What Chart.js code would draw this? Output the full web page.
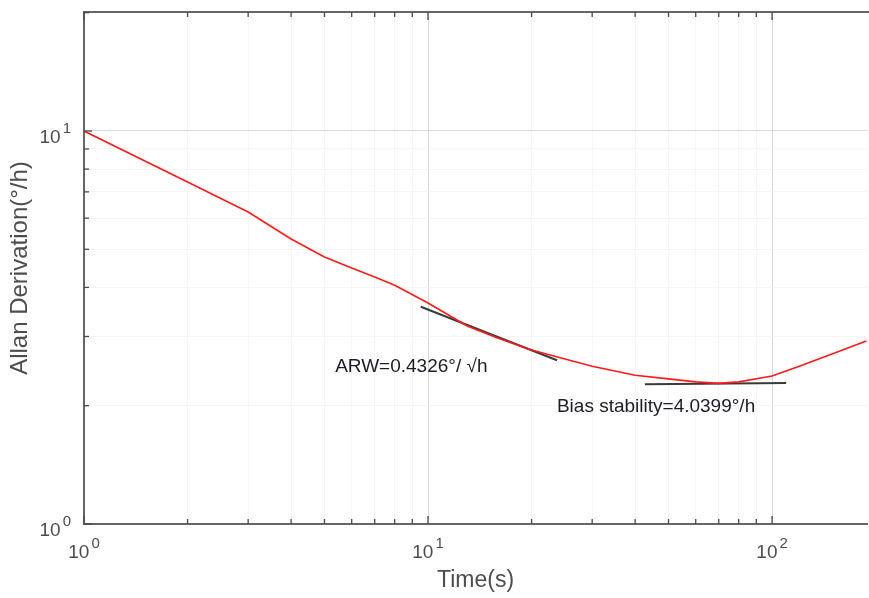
<!DOCTYPE html>
<html>
<head>
<meta charset="utf-8">
<script src="https://cdn.jsdelivr.net/npm/chart.js@4.4.1/dist/chart.umd.min.js"></script>
<style>
  html, body { margin: 0; padding: 0; background: #fff; }
  #wrap { width: 869px; height: 598px; }
</style>
</head>
<body>
<div id="wrap"><canvas id="allanChart" width="869" height="598"></canvas></div>
<script>
// Curva de Allan (tau em s, desvio em °/h)
var tauValues  = [1, 2, 3, 4, 5, 6, 7, 8, 10, 13, 16, 20, 25, 30, 40, 50, 60, 70, 80, 100, 120, 150, 188];
var adevValues = [10.0, 7.42, 6.22, 5.31, 4.78, 4.48, 4.25, 4.05, 3.65, 3.19, 2.97, 2.77, 2.63, 2.52, 2.39, 2.34, 2.30, 2.28, 2.30, 2.38, 2.52, 2.71, 2.92];

// Retas de ajuste (ARW e bias stability)
var arwTau  = [9.53, 23.7];
var arwAdev = [3.57, 2.61];
var biasTau  = [42.7, 109.9];
var biasAdev = [2.268, 2.285];

// Textos das anotações e onde ficam (em coordenadas dos dados)
var noteTexts = ['ARW=0.4326°/ √h', 'Bias stability=4.0399°/h'];
var noteTau   = [5.37, 23.7];
var noteAdev  = [2.437, 1.928];

// Ticks dos eixos
var xTickValues = [1, 2, 3, 4, 5, 6, 7, 8, 9, 10, 20, 30, 40, 50, 60, 70, 80, 90, 100];
var yTickValues = [1, 2, 3, 4, 5, 6, 7, 8, 9, 10, 20];
var xLabelValues = [1, 10, 100];
var xLabelExps   = ['0', '1', '2'];
var yLabelValues = [1, 10];
var yLabelExps   = ['0', '1'];

var FONT = "'Liberation Sans', Arial, sans-serif";

function isDecade(v) {
  var l = Math.log10(v);
  return Math.abs(l - Math.round(l)) < 1e-9;
}

function toPoints(xs, ys) {
  return xs.map(function (x, i) { return { x: x, y: ys[i] }; });
}

function setTicks(list) {
  return function (scale) {
    scale.ticks = list.map(function (v) { return { value: v, major: isDecade(v) }; });
  };
}

function gridColor(c) {
  return c.tick && c.tick.major ? '#d9d9d9' : '#f5f5f5';
}

// Desenha "10" com expoente
function drawPow(ctx, exp, x, y, align) {
  ctx.font = '19px ' + FONT;
  var wb = ctx.measureText('10').width;
  ctx.font = '15px ' + FONT;
  var we = ctx.measureText(exp).width;
  var total = wb + 2 + we;
  var start = align === 'right' ? x - total : x - total / 2;
  ctx.textAlign = 'left';
  ctx.textBaseline = 'alphabetic';
  ctx.font = '19px ' + FONT;
  ctx.fillText('10', start, y);
  ctx.font = '15px ' + FONT;
  ctx.fillText(exp, start + wb + 2, y - 10);
}

var axisDecor = {
  id: 'axisDecor',
  afterDraw: function (chart) {
    var ctx = chart.ctx, a = chart.chartArea;
    var xs = chart.scales.x, ys = chart.scales.y;
    ctx.save();

    // borda superior
    ctx.strokeStyle = '#666';
    ctx.lineWidth = 2;
    ctx.beginPath();
    ctx.moveTo(a.left - 1, a.top);
    ctx.lineTo(a.right + 2, a.top);
    ctx.stroke();

    // ticks para dentro
    ctx.strokeStyle = '#4a4a4a';
    ctx.lineWidth = 1.3;
    xs.ticks.forEach(function (t) {
      var px = xs.getPixelForValue(t.value), len = t.major ? 8 : 5;
      ctx.beginPath();
      ctx.moveTo(px, a.bottom); ctx.lineTo(px, a.bottom - len);
      ctx.moveTo(px, a.top); ctx.lineTo(px, a.top + len);
      ctx.stroke();
    });
    ys.ticks.forEach(function (t) {
      var py = ys.getPixelForValue(t.value), len = t.major ? 8 : 5;
      ctx.beginPath();
      ctx.moveTo(a.left, py); ctx.lineTo(a.left + len, py);
      ctx.stroke();
    });

    // rótulos dos ticks
    ctx.fillStyle = '#4d4d4d';
    xLabelValues.forEach(function (v, i) {
      drawPow(ctx, xLabelExps[i], xs.getPixelForValue(v), a.bottom + 34, 'center');
    });
    yLabelValues.forEach(function (v, i) {
      drawPow(ctx, yLabelExps[i], a.left - 13, ys.getPixelForValue(v) + 12, 'right');
    });

    // anotações
    ctx.fillStyle = '#1c1c28';
    ctx.font = '19px ' + FONT;
    ctx.textAlign = 'left';
    ctx.textBaseline = 'alphabetic';
    noteTexts.forEach(function (txt, i) {
      ctx.fillText(txt, xs.getPixelForValue(noteTau[i]), ys.getPixelForValue(noteAdev[i]));
    });

    ctx.restore();
  }
};

new Chart(document.getElementById('allanChart'), {
  type: 'line',
  data: {
    datasets: [
      { label: 'Allan', data: toPoints(tauValues, adevValues), borderColor: '#ff1a1a', borderWidth: 1.6, pointRadius: 0, tension: 0, fill: false },
      { label: 'ARW', data: toPoints(arwTau, arwAdev), borderColor: '#3a3a3a', borderWidth: 2, pointRadius: 0, tension: 0, fill: false },
      { label: 'Bias', data: toPoints(biasTau, biasAdev), borderColor: '#3a3a3a', borderWidth: 2, pointRadius: 0, tension: 0, fill: false }
    ]
  },
  options: {
    responsive: false,
    animation: false,
    events: [],
    layout: { padding: { top: 12, right: 2, left: 0, bottom: 0 } },
    plugins: { legend: { display: false }, tooltip: { enabled: false } },
    scales: {
      x: {
        type: 'logarithmic', min: 1, max: 188.8,
        afterBuildTicks: setTicks(xTickValues),
        afterFit: function (s) { s.height = 74; },
        ticks: { display: false },
        grid: { color: gridColor, drawTicks: false, lineWidth: 1 },
        border: { display: true, color: '#666', width: 2 },
        title: { display: true, text: 'Time(s)', color: '#4d4d4d', font: { family: FONT, size: 23 }, padding: { top: 0, bottom: 4 } }
      },
      y: {
        type: 'logarithmic', min: 1, max: 20.08,
        afterBuildTicks: setTicks(yTickValues),
        afterFit: function (s) { s.width = 84; },
        ticks: { display: false },
        grid: { color: gridColor, drawTicks: false, lineWidth: 1 },
        border: { display: true, color: '#666', width: 2 },
        title: { display: true, text: 'Allan Derivation(°/h)', color: '#4d4d4d', font: { family: FONT, size: 24 }, padding: { top: 6, bottom: 0 } }
      }
    }
  },
  plugins: [axisDecor]
});
</script>
</body>
</html>
